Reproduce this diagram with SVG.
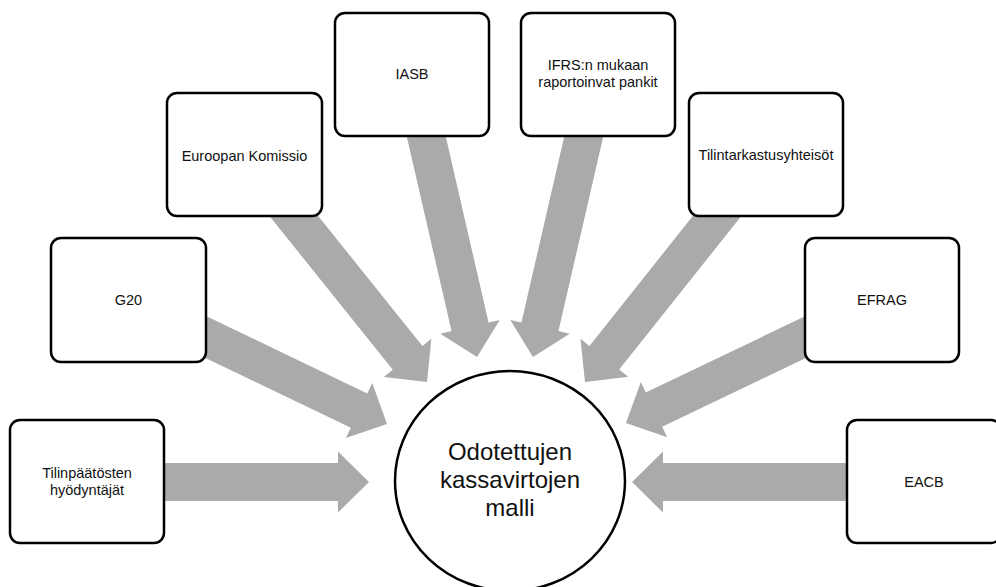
<svg xmlns="http://www.w3.org/2000/svg" xmlns:xlink="http://www.w3.org/1999/xlink" width="996" height="587" viewBox="0 0 996 587">
<style>
.box{fill:#fff;stroke:#000;stroke-width:2.5}
.lbl{font-family:"Liberation Sans",Arial,sans-serif;font-size:14.5px;fill:#111;text-anchor:middle}
.big{font-family:"Liberation Sans",Arial,sans-serif;font-size:24px;fill:#111;text-anchor:middle}
.arr{fill:#aaaaaa}
</style>
<defs>
<path id="arrow" class="arr" d="M-280,-19 L-31,-19 L-31,-30.5 L0,0 L-31,30.5 L-31,19 L-280,19 Z"/>
</defs>
<rect width="996" height="587" fill="#fff"/>
<g id="connectors">
<use xlink:href="#arrow" href="#arrow" transform="translate(369,482) rotate(0)"/>
<use xlink:href="#arrow" href="#arrow" transform="translate(387,424) rotate(25.63)"/>
<use xlink:href="#arrow" href="#arrow" transform="translate(427,382) rotate(51.26)"/>
<use xlink:href="#arrow" href="#arrow" transform="translate(477,357) rotate(77.04)"/>
<use xlink:href="#arrow" href="#arrow" transform="translate(533,357) rotate(102.96)"/>
<use xlink:href="#arrow" href="#arrow" transform="translate(585,382) rotate(128.51)"/>
<use xlink:href="#arrow" href="#arrow" transform="translate(626,423) rotate(154.43)"/>
<use xlink:href="#arrow" href="#arrow" transform="translate(632,482) rotate(180)"/>
</g>
<g id="center">
<ellipse cx="510" cy="481" rx="115" ry="110" fill="#fff" stroke="#000" stroke-width="2.5"/>
<text class="big" x="510" y="460">Odotettujen</text>
<text class="big" x="510" y="488">kassavirtojen</text>
<text class="big" x="510" y="516">malli</text>
</g>
<g id="tilinpaatosten">
<rect class="box" x="10" y="420" width="154" height="123" rx="10"/>
<text class="lbl" x="87" y="478">Tilinpäätösten</text>
<text class="lbl" x="87" y="495">hyödyntäjät</text>
</g>
<g id="g20">
<rect class="box" x="51" y="238" width="155" height="124" rx="10"/>
<text class="lbl" x="128.5" y="305">G20</text>
</g>
<g id="euroopan">
<rect class="box" x="167" y="93" width="155" height="123" rx="10"/>
<text class="lbl" x="244.5" y="161">Euroopan Komissio</text>
</g>
<g id="iasb">
<rect class="box" x="335" y="13" width="154" height="123" rx="10"/>
<text class="lbl" x="412" y="79">IASB</text>
</g>
<g id="ifrs">
<rect class="box" x="521" y="13" width="154" height="123" rx="10"/>
<text class="lbl" x="598" y="70">IFRS:n mukaan</text>
<text class="lbl" x="598" y="87">raportoinvat pankit</text>
</g>
<g id="tilintarkastus">
<rect class="box" x="689" y="93" width="154" height="123" rx="10"/>
<text class="lbl" x="766" y="160">Tilintarkastusyhteisöt</text>
</g>
<g id="efrag">
<rect class="box" x="805" y="238" width="154" height="124" rx="10"/>
<text class="lbl" x="882" y="305">EFRAG</text>
</g>
<g id="eacb">
<rect class="box" x="847" y="420" width="154" height="123" rx="10"/>
<text class="lbl" x="924" y="487">EACB</text>
</g>
</svg>
